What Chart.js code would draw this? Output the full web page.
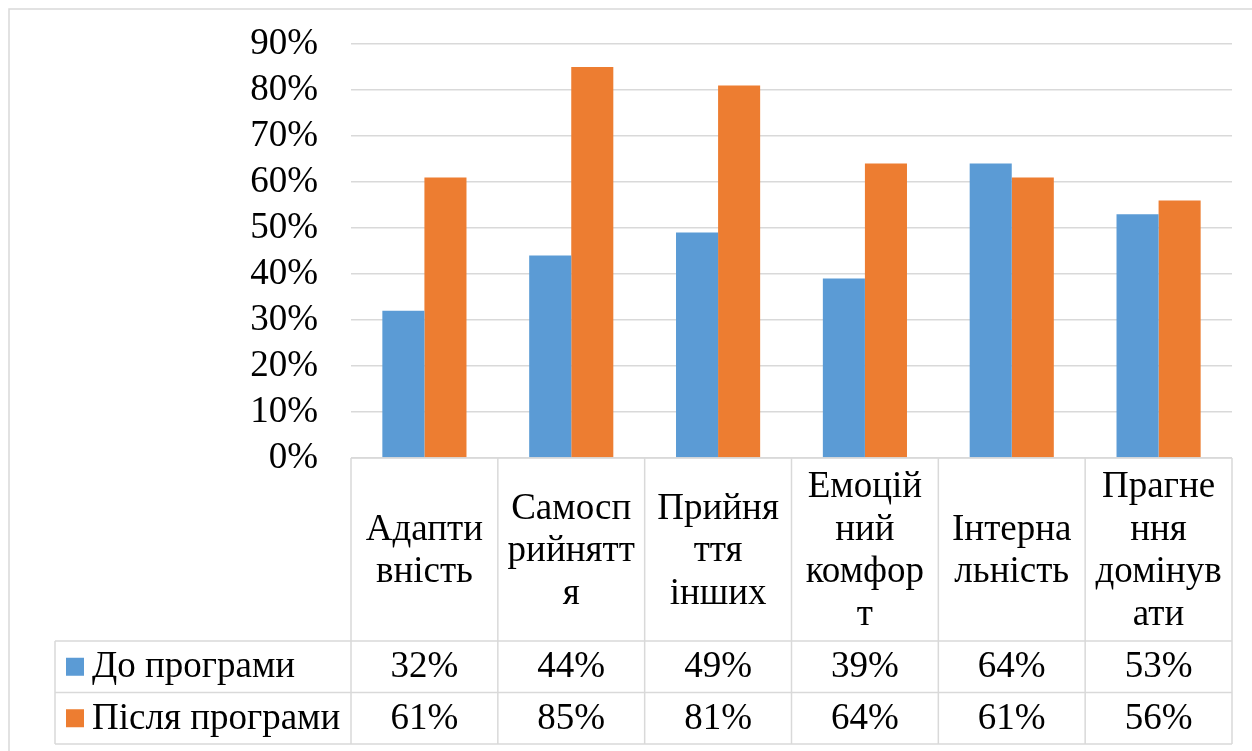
<!DOCTYPE html>
<html>
<head>
<meta charset="utf-8">
<script src="https://cdn.jsdelivr.net/npm/chart.js@4/dist/chart.umd.min.js"></script>
<style>
  html, body { margin: 0; padding: 0; background: #ffffff; }
  #c { display: block; }
  .pre { font-family: 'Liberation Serif'; position: absolute; left: -9999px; }
</style>
</head>
<body>
<span class="pre">Аа 0%</span>
<canvas id="c" width="1252" height="751"></canvas>
<script>
// ---- data ----
const categories = ["Адаптивність", "Самосприйняття", "Прийняття інших", "Емоційний комфорт", "Інтернальність", "Прагнення домінувати"];
// category labels as wrapped in the original table header
const categoryLines = [
  ["Адапти", "вність"],
  ["Самосп", "рийнятт", "я"],
  ["Прийня", "ття", "інших"],
  ["Емоцій", "ний", "комфор", "т"],
  ["Інтерна", "льність"],
  ["Прагне", "ння", "домінув", "ати"]
];
const seriesNames = ["До програми", "Після програми"];
const beforeValues = [32, 44, 49, 39, 64, 53];
const afterValues = [61, 85, 81, 64, 61, 56];
const seriesColors = ["#5B9BD5", "#ED7D31"];
const yMin = 0, yMax = 90, yStep = 10;

const FAMILY = "'Liberation Serif', 'Times New Roman', Tinos, serif";
const FONT = "37px " + FAMILY;
const LINE = "#d9d9d9";

const tablePlugin = {
  id: 'dataTable',
  beforeDraw(chart) {
    const ctx = chart.ctx;
    ctx.save();
    ctx.fillStyle = '#ffffff';
    ctx.fillRect(0, 0, chart.width, chart.height);
    ctx.strokeStyle = LINE;
    ctx.lineWidth = 1.5;
    ctx.beginPath();
    ctx.moveTo(9, chart.height);
    ctx.lineTo(9, 9);
    ctx.lineTo(chart.width, 9);
    ctx.stroke();
    ctx.restore();
  },
  afterDraw(chart) {
    const ctx = chart.ctx;
    const xs = chart.scales.x;
    const area = chart.chartArea;
    const n = chart.data.labels.length;
    const cw = (area.right - area.left) / n;
    const top = area.bottom;
    const headerBottom = top + 183;
    const rowH = 51.5;
    const row1Bottom = headerBottom + rowH;
    const row2Bottom = row1Bottom + rowH;
    const tableLeft = 55;

    ctx.save();
    ctx.strokeStyle = LINE;
    ctx.lineWidth = 1.5;
    ctx.beginPath();
    ctx.moveTo(area.left, top); ctx.lineTo(area.right, top);
    ctx.moveTo(tableLeft, headerBottom); ctx.lineTo(area.right, headerBottom);
    ctx.moveTo(tableLeft, row1Bottom); ctx.lineTo(area.right, row1Bottom);
    ctx.moveTo(tableLeft, row2Bottom); ctx.lineTo(area.right, row2Bottom);
    ctx.moveTo(tableLeft, headerBottom); ctx.lineTo(tableLeft, row2Bottom);
    for (let i = 0; i <= n; i++) {
      const xx = i === n ? area.right : xs.getPixelForValue(i) - cw / 2;
      ctx.moveTo(xx, top); ctx.lineTo(xx, row2Bottom);
    }
    ctx.stroke();

    ctx.fillStyle = '#000000';
    ctx.font = FONT;
    ctx.textAlign = 'center';
    ctx.textBaseline = 'alphabetic';
    const headerMid = (top + headerBottom) / 2 + 11.5;
    const lh = 42.5;
    for (let i = 0; i < n; i++) {
      const cx = xs.getPixelForValue(i);
      const lines = categoryLines[i];
      lines.forEach((t, j) => {
        ctx.fillText(t, cx, headerMid + (j - (lines.length - 1) / 2) * lh);
      });
    }
    const rowTops = [headerBottom, row1Bottom];
    const rowBottoms = [row1Bottom, row2Bottom];
    chart.data.datasets.forEach((ds, r) => {
      const mid = (rowTops[r] + rowBottoms[r]) / 2;
      ctx.textAlign = 'center';
      ds.data.forEach((v, i) => {
        ctx.fillText(v + '%', xs.getPixelForValue(i), mid + 10.5);
      });
      ctx.fillStyle = ds.backgroundColor;
      ctx.fillRect(66, mid - 9, 18, 18);
      ctx.fillStyle = '#000000';
      ctx.textAlign = 'left';
      ctx.fillText(ds.label, 92, mid + 10.5);
    });
    ctx.restore();
  }
};

function build() {
  new Chart(document.getElementById('c'), {
    type: 'bar',
    data: {
      labels: categories,
      datasets: [
        { label: seriesNames[0], data: beforeValues, backgroundColor: seriesColors[0] },
        { label: seriesNames[1], data: afterValues, backgroundColor: seriesColors[1] }
      ]
    },
    options: {
      responsive: false,
      animation: false,
      devicePixelRatio: 1,
      layout: { padding: { left: 0, right: 20, top: 44, bottom: 293 } },
      datasets: { bar: { categoryPercentage: 0.573, barPercentage: 1.0 } },
      plugins: { legend: { display: false }, tooltip: { enabled: false } },
      scales: {
        x: { display: false },
        y: {
          min: yMin, max: yMax,
          afterFit(scale) { scale.width = 351; },
          border: { display: false },
          grid: { color: LINE, lineWidth: 1.5, drawTicks: false },
          ticks: {
            stepSize: yStep,
            autoSkip: false,
            padding: 33,
            color: '#000000',
            font: { family: FAMILY, size: 37, lineHeight: 0.2 },
            callback: (v) => v + '%'
          }
        }
      }
    },
    plugins: [tablePlugin]
  });
}

if (document.fonts && document.fonts.load) {
  Promise.all([document.fonts.load(FONT, 'Аа0%'), document.fonts.ready]).then(build, build);
} else {
  build();
}
</script>
</body>
</html>
